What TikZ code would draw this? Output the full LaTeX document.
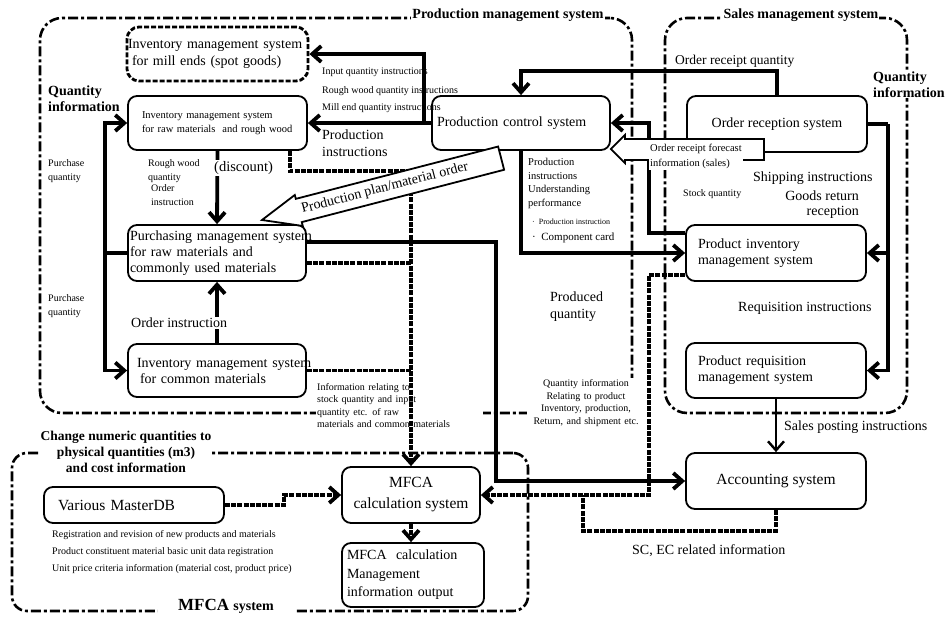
\documentclass[tikz,border=0pt]{standalone}
\usepackage{fontspec}
\setmainfont{Liberation Serif}
\usetikzlibrary{arrows.meta,calc}

\newcommand{\fsz}[2]{\fontsize{#1}{#2}\selectfont}

\tikzset{
  frame/.style={draw, line width=2.6pt, dash pattern=on 10pt off 3pt on 3pt off 3pt,
                rounded corners=22pt, inner sep=0pt},
  sysbox/.style={draw, line width=1.8pt, rounded corners=9pt, fill=white, inner ysep=0pt},
  tip/.style={-{Straight Barb[length=9pt,width=16pt]}},
  link/.style={line width=3.8pt},
  conn/.style={link, tip},
  dlink/.style={line width=3.8pt, dash pattern=on 5pt off 1.2pt},
  dconn/.style={dlink, tip},
  hollow/.style={draw, line width=1.8pt, fill=white, line join=miter},
  big/.style={font=\fsz{14}{17}},
  small/.style={font=\fsz{10}{14}},
  boldlbl/.style={font=\bfseries\fsz{14}{16}},
  lbl/.style={inner sep=1pt},
}

\begin{document}
\begin{tikzpicture}[x=1pt,y=-1pt]
\useasboundingbox (0,0) rectangle (947,616);

% ---- system frames ----
\node[frame, minimum width=592pt, minimum height=395pt] (prodsys) at (336,215.5) {};
\node[frame, minimum width=242pt, minimum height=395pt] (salessys) at (786,215.5) {};
\node[frame, rounded corners=15pt, minimum width=516pt, minimum height=158pt] (mfcasys) at (270,532) {};

% ---- frame titles ----
\node[boldlbl, lbl, fill=white] (tProd) at (508,15) {Production management system};
\node[boldlbl, lbl, fill=white] (tSales) at (801,15) {Sales management system};
\node[boldlbl, lbl, fill=white, anchor=west, align=left] (tQtyR) at (872,84.5) {Quantity\\information};
\node[boldlbl, lbl, anchor=west, align=left] (tQtyL) at (47,98.5) {Quantity\\information};
\node[lbl, fill=white, align=center, font=\bfseries\fsz{13.5}{16}] (tChg) at (126,452)
  {Change numeric quantities to\\physical quantities (m3)\\and cost information};
\node[lbl, fill=white, minimum width=137pt] (tMfca) at (226,606)
  {\bfseries\fsz{17}{18}MFCA\ \fsz{14}{16}system};

% ---- systems ----
\node[sysbox, minimum width=181pt, minimum height=54pt, text width=179pt, inner xsep=1pt,
      align=left, big, dash pattern=on 5pt off 2pt, line width=2.8pt, rounded corners=12pt]
  (mill) at (217.5,54) {\mbox{Inventory management system}\\\mbox{\hspace*{4pt}for mill ends (spot goods)}};
\node[sysbox, minimum width=179pt, minimum height=54pt, text width=151pt, inner xsep=14pt,
      align=left, font=\fsz{10.5}{14}]
  (raw) at (217.5,123) {\mbox{Inventory management system}\\\mbox{for raw materials \ and rough wood}};
\node[sysbox, minimum width=178pt, minimum height=56pt, text width=174pt, inner xsep=2pt,
      align=left, font=\fsz{14}{16}]
  (purch) at (217,253) {\mbox{Purchasing management system}\\\mbox{for raw materials and}\\\mbox{commonly used materials}};
\node[sysbox, minimum width=178pt, minimum height=53pt, text width=160pt, inner xsep=9pt,
      align=left, font=\fsz{14}{16}]
  (common) at (217,370.5) {\mbox{Inventory management system}\\\mbox{\hspace*{3pt}for common materials}};
\node[sysbox, minimum width=178pt, minimum height=54pt, text width=168pt, inner xsep=5pt,
      align=left, font=\fsz{14}{16}]
  (prodctl) at (521,123) {\mbox{Production control system}};
\node[sysbox, minimum width=180pt, minimum height=56pt, big] (ordrec) at (777,124) {Order reception system};
\node[sysbox, minimum width=180pt, minimum height=56pt, text width=156pt, inner xsep=12pt,
      align=left, font=\fsz{14}{16}]
  (pinv) at (776,253) {\mbox{Product inventory}\\\mbox{management system}};
\node[sysbox, minimum width=180pt, minimum height=55pt, text width=156pt, inner xsep=12pt,
      align=left, font=\fsz{14}{16}]
  (preq) at (776,370.5) {\mbox{Product requisition}\\\mbox{management system}};
\node[sysbox, minimum width=180pt, minimum height=56pt, font=\fsz{15.5}{18}] (acct) at (776,481) {Accounting system};
\node[sysbox, minimum width=138pt, minimum height=56pt, align=center, font=\fsz{15.5}{21}]
  (mfcacalc) at (411,495) {MFCA\\calculation system};
\node[sysbox, minimum width=142pt, minimum height=64pt, text width=132pt, inner xsep=5pt,
      align=left, font=\fsz{14}{18.5}]
  (mfcaout) at (413,575) {\mbox{MFCA\ \ calculation}\\\mbox{Management}\\\mbox{information output}};
\node[sysbox, minimum width=180pt, minimum height=36pt, text width=152pt, inner xsep=14pt,
      align=left, font=\fsz{15.5}{18}]
  (master) at (134,505) {\mbox{Various MasterDB}};

% ---- labels lying under the connectors ----
\node[small, lbl, anchor=west] (lIn) at (321,72) {Input quantity instructions};
\node[small, lbl, anchor=west] (lRw) at (321,91) {Rough wood quantity instructions};
\node[small, lbl, anchor=west] (lMe) at (321,108) {Mill end quantity instructions};
\node[big, lbl, anchor=west, align=left] (lPi) at (321,143.5) {Production\\instructions};
\node[small, lbl, anchor=west, align=left] (lPq1) at (47,171) {Purchase\\quantity};
\node[small, lbl, anchor=west, align=left] (lPq2) at (47,306) {Purchase\\quantity};
\node[small, lbl, anchor=west, align=left] (lRwq) at (147,171) {Rough wood\\quantity};
\node[small, lbl, anchor=west, align=left, fill=white] (lOi) at (150,195) {Order\\instruction};
\node[lbl, anchor=north west, align=left, font=\fsz{10.5}{13.7}] (lPu) at (527,157)
  {Production\\instructions\\Understanding\\performance};
\node[lbl, anchor=west, font=\fsz{8}{10}] (lB1) at (531,222) {·\ \ Production instruction};
\node[lbl, anchor=west, font=\fsz{11}{13}] (lB2) at (531,238) {·\ \ Component card};
\node[small, lbl, anchor=west] (lSq) at (682,194) {Stock quantity};
\node[lbl, anchor=west, font=\fsz{13.5}{16}] (lOrq) at (674,61) {Order receipt quantity};
\node[big, lbl, anchor=west] (lShip) at (752,178) {Shipping instructions};
\node[big, lbl, anchor=east] (lGr) at (860,196) {Goods return};
\node[big, lbl, anchor=east] (lRc) at (860,212) {reception};
\node[big, lbl, anchor=west] (lReq) at (737,308) {Requisition instructions};
\node[big, lbl, anchor=west] (lSp) at (783,427) {Sales posting instructions};
\node[big, lbl, anchor=west, align=left] (lProd) at (549,306.5) {Produced\\quantity};
\node[big, lbl, anchor=west] (lSc) at (631,551) {SC, EC related information};
\node[lbl, anchor=north west, align=left, fill=white, text width=165pt, font=\fsz{10}{12.5}]
  (lInfo) at (316,382) {Information relating to\\stock quantity and input\\quantity etc. of raw\\materials and common materials};
\node[lbl, align=center, fill=white, text width=116pt, font=\fsz{10}{12.7}]
  (lQp) at (586,403) {Quantity information\\Relating to product\\Inventory, production,\\Return, and shipment etc.};
\node[lbl, anchor=north west, align=left, font=\fsz{10}{17}] (lMaster) at (51,529)
  {Registration and revision of new products and materials\\Product constituent material basic unit data registration\\Unit price criteria information (material cost, product price)};

% ---- connectors ----
% production control -> inventories
\coordinate (pj) at ($(prodctl.west)+(-7,0)$);
\draw[conn] (prodctl.west) -- (raw.east);
\draw[conn] (pj) |- (mill.east);
% order reception -> production control
\draw[conn] (ordrec.north) -- ++(0,-24) -| (prodctl.north);
% product inventory -> production control
\draw[conn] ($(pinv.west)+(0,-20)$) -| ($(prodctl.east)+(38,0)$) -- (prodctl.east);
% production control -> product inventory
\draw[conn] (prodctl.south) |- (pinv.west);
% order reception -> product inventory / requisition
\coordinate (sj) at ($(ordrec.east)+(20,0)$);
\draw[link] (ordrec.east) -- (sj);
\draw[conn] (sj) |- (pinv.east);
\draw[conn] (sj) |- (preq.east);
% requisition -> accounting
\draw[line width=2.4pt, tip] (preq.south) -- (acct.north);
% raw / common -> purchasing
\draw[conn] (raw.south) -- (purch.north);
\draw[conn] (common.north) -- (purch.south);
% purchasing -> inventories (purchase quantity)
\coordinate (pj2) at ($(purch.west)+(-22,0)$);
\draw[link] (purch.west) -- (pj2);
\draw[conn] (pj2) |- (raw.west);
\draw[conn] (pj2) |- (common.west);
% purchasing -> accounting
\draw[conn] ($(purch.east)+(0,-11)$) -| ($(acct.west)+(-189,0)$) -- (acct.west);
% material data -> MFCA
\draw[dconn] ($(raw.south)+(72.5,0)$) |- ($(mfcacalc.north)+(0,-295)$) -- (mfcacalc.north);
\draw[dlink] ($(purch.east)+(0,10)$) -- ++(105,0);
\draw[dlink] (common.east) -- (common.east -| mfcacalc.north);
% product / accounting data -> MFCA
\draw[dconn] ($(pinv.west)+(0,22)$) -| ($(mfcacalc.east)+(168,0)$) -- (mfcacalc.east);
\draw[dlink] (acct.south) -- ++(0,21) -| ($(mfcacalc.east)+(102,0)$);
% master data -> MFCA
\draw[dconn] (master.east) -- ++(59,0) |- (mfcacalc.west);
\draw[dconn] (mfcacalc.south) -- (mfcacalc.south |- mfcaout.north);

% ---- labels lying over the connectors ----
\node[lbl, anchor=west, fill=white, font=\fsz{14.5}{17}] (lDisc) at (213,168) {(discount)};
\node[big, lbl, anchor=west, fill=white] (lOi2) at (130,323) {Order instruction};

% ---- block arrows ----
\coordinate (fctip) at ($(prodctl.east)+(0,26)$);
\draw[hollow] (fctip) -- ++(14,-14) -- ++(0,4) -- ++(139,0) -- ++(0,21) -- ++(-139,0) -- ++(0,3) -- cycle;
\node[lbl, anchor=north west, align=left, fill=white, font=\fsz{10.5}{15}] (lFc) at (649,143)
  {Order receipt forecast\\information (sales)};

\coordinate (plantip) at (262,220);
\begin{scope}[shift={(plantip)}, rotate=14.5]
  \draw[hollow] (0,0) -- (38,-16) -- (38,-12) -- (247,-12) -- (247,12) -- (38,12) -- (38,16) -- cycle;
  \node[big, lbl, rotate=14.5] (plan) at (127,0) {Production plan/material order};
\end{scope}
\end{tikzpicture}
\end{document}
